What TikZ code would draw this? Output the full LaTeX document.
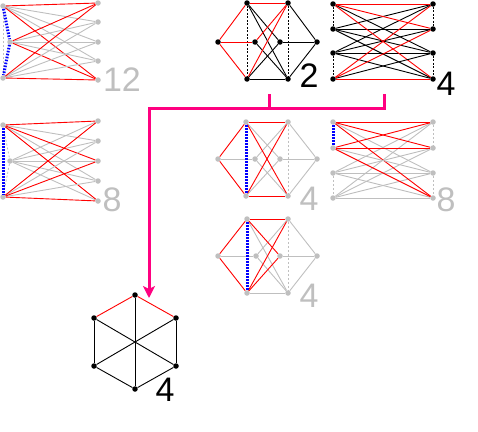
\documentclass[tikz,border=0pt]{standalone}
\usepackage{fontspec}
\setmainfont{Liberation Sans}
\usetikzlibrary{arrows.meta}
\definecolor{lgray}{RGB}{191,191,191}
\definecolor{hotpink}{RGB}{255,0,128}

\begin{document}
\begin{tikzpicture}[x=1pt,y=-1pt,
  bv/.style={circle,fill=black,inner sep=0pt,minimum size=5.5pt},
  gv/.style={circle,fill=lgray,inner sep=0pt,minimum size=5.5pt},
  ge/.style={lgray,line width=0.9pt},
  re/.style={red,line width=0.9pt},
  ke/.style={black,line width=0.9pt},
  bluedot/.style={blue,line width=3pt,dash pattern=on 1.6pt off 1.4pt},
  graydash/.style={lgray,line width=0.8pt,dash pattern=on 2pt off 2pt},
  blackdash/.style={black,line width=0.8pt,dash pattern=on 2pt off 1.5pt},
  num/.style={font=\fontsize{34}{34}\selectfont,inner sep=0pt},
  pinkline/.style={hotpink,line width=3pt,line join=miter}]
\useasboundingbox (0,0) rectangle (478,431);

\foreach \n/\x/\y in {1/3/6,2/10/42,3/3/78} \node[gv] (a\n) at (\x,\y) {};
\foreach \n/\y in {1/3,2/22,3/42,4/61,5/80} \node[gv] (ar\n) at (98,\y) {};
\draw[graydash] (a1) -- (a3);
\foreach \i in {1,2,3} {
  \foreach \j in {2,3,4} \draw[ge] (a\i) -- (ar\j);
  \foreach \j in {1,5} \draw[re] (a\i) -- (ar\j);
}
\draw[bluedot] (a1) -- (a2) -- (a3);
\node[num,lgray] (na) at (122,80) {12};

\foreach \n/\x/\y in {1/3/125,2/10/161,3/3/197} \node[gv] (b\n) at (\x,\y) {};
\foreach \n/\y in {1/121,2/141,3/161,4/181,5/201} \node[gv] (br\n) at (98,\y) {};
\draw[graydash] (b1) -- (b2) -- (b3);
\foreach \j in {1,...,5} \draw[ge] (b2) -- (br\j);
\foreach \i in {1,3} {
  \foreach \j in {2,4} \draw[ge] (b\i) -- (br\j);
  \foreach \j in {1,3,5} \draw[re] (b\i) -- (br\j);
}
\draw[bluedot] (b1) -- (b3);
\node[num,lgray] (nb) at (112,200) {8};

\foreach \n/\x/\y in {tl/247/3,tr/288/3,l/218/42,il/255/42,ir/280/42,r/317/42,bl/247/79,br/288/79}
  \node[bv] (c\n) at (\x,\y) {};
\draw[blackdash] (ctl) -- (cbl);
\draw[blackdash] (ctr) -- (cbr);
\foreach \u/\v in {bl/br,r/tr,r/br,r/ir,tl/br,tl/ir,bl/ir,br/il} \draw[ke] (c\u) -- (c\v);
\foreach \u/\v in {tl/tr,l/tl,l/bl,l/il,tr/bl,tr/il} \draw[re] (c\u) -- (c\v);
\node[num] (nc) at (309,76) {2};

\foreach \n/\x/\y in {tl/246/122,tr/288/122,l/218/159,il/255/159,ir/280/159,r/317/159,bl/246/196,br/288/196}
  \node[gv] (d\n) at (\x,\y) {};
\draw[graydash] (dtr) -- (dbr);
\foreach \u/\v in {l/il,r/tr,r/br,r/ir,tl/ir,bl/ir,tr/il,br/il} \draw[ge] (d\u) -- (d\v);
\foreach \u/\v in {l/tl,l/bl,tl/tr,bl/br,tl/br,tr/bl} \draw[re] (d\u) -- (d\v);
\draw[bluedot] (dtl) -- (dbl);
\node[num,lgray] (nd) at (309,199) {4};

\foreach \n/\x/\y in {tl/247/219,tr/288/219,l/218/256,il/256/256,ir/280/256,r/317/256,bl/247/293,br/288/293}
  \node[gv] (e\n) at (\x,\y) {};
\draw[graydash] (etr) -- (ebr);
\foreach \u/\v in {l/il,r/tr,r/br,r/ir,tl/br,bl/br,tr/il,br/il} \draw[ge] (e\u) -- (e\v);
\foreach \u/\v in {l/tl,l/bl,tl/tr,tl/ir,bl/ir,tr/bl} \draw[re] (e\u) -- (e\v);
\draw[bluedot] (etl) -- (ebl);
\node[num,lgray] (ne) at (309,296) {4};

\foreach \n/\y in {1/4,2/29,3/53,4/79} {
  \node[bv] (fl\n) at (333,\y) {};
  \node[bv] (fr\n) at (433,\y) {};
}
\foreach \u/\v in {l1/l2,l3/l4,r1/r2,r3/r4} \draw[blackdash] (f\u) -- (f\v);
\foreach \i in {2,3} \foreach \j in {1,...,4} \draw[ke] (fl\i) -- (fr\j);
\foreach \i in {1,4} {
  \draw[ke] (fl\i) -- (fr3);
  \foreach \j in {1,2,4} \draw[re] (fl\i) -- (fr\j);
}
\node[num] (nf) at (446,84) {4};

\foreach \n/\y in {1/122,2/148,3/173,4/198} {
  \node[gv] (gl\n) at (333,\y) {};
  \node[gv] (gr\n) at (433,\y) {};
}
\foreach \u/\v in {l3/l4,r1/r2,r3/r4} \draw[graydash] (g\u) -- (g\v);
\foreach \i in {3,4} \foreach \j in {1,...,4} \draw[ge] (gl\i) -- (gr\j);
\foreach \i in {1,2} {
  \draw[ge] (gl\i) -- (gr3);
  \foreach \j in {1,2,4} \draw[re] (gl\i) -- (gr\j);
}
\draw[bluedot] (gl1) -- (gl2);
\node[num,lgray] (ng) at (446,200) {8};

\foreach \n/\x/\y in {t/135/295,ul/94/318,ur/176/318,ll/94/366,lr/176/366,b/135/389}
  \node[bv] (h\n) at (\x,\y) {};
\foreach \u/\v in {ul/ll,ur/lr,ll/b,lr/b,t/b,ul/lr,ur/ll} \draw[ke] (h\u) -- (h\v);
\draw[re] (hul) -- (ht) -- (hur);
\node[num] (nh) at (165,390) {4};

\coordinate (cout) at (269.5,94);
\coordinate (cjoin) at (269.5,108);
\coordinate (fout) at (384,94);
\coordinate (fjoin) at (384,108);
\coordinate (bend) at (149,108);
\coordinate (hin) at (149,298);
\draw[pinkline] (cout) -- (cjoin);
\draw[pinkline,-{Stealth[length=12pt,width=12pt,inset=3pt]}] (fout) -- (fjoin) -- (bend) -- (hin);
\end{tikzpicture}
\end{document}
